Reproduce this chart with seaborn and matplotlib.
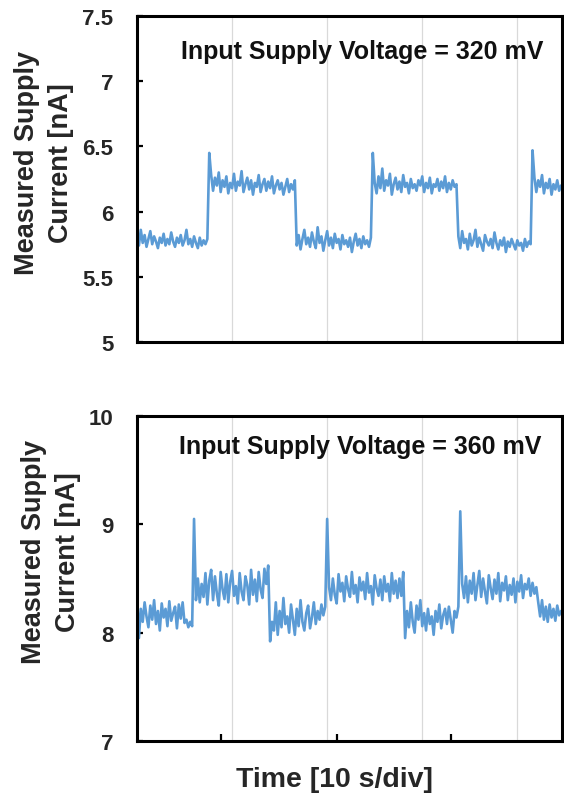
import numpy as np
import pandas as pd
import matplotlib
matplotlib.use("Agg")
import matplotlib.pyplot as plt
import seaborn as sns

# ---- data ----
sample_period_s = 0.2  # time between samples, seconds

current_320mV = [
    # low
    5.80, 5.74, 5.86, 5.76, 5.82, 5.73, 5.79, 5.85, 5.75, 5.81,
    5.77, 5.72, 5.80, 5.76, 5.83, 5.74, 5.79, 5.75, 5.84, 5.77,
    5.73, 5.80, 5.76, 5.82, 5.74, 5.78, 5.86, 5.75, 5.79, 5.73,
    5.81, 5.76, 5.72, 5.80, 5.74, 5.78, 5.75, 5.79,
    # spike + high
    6.45,
    6.28, 6.16, 6.26, 6.20, 6.30, 6.15, 6.24, 6.19, 6.27, 6.14,
    6.22, 6.18, 6.29, 6.16, 6.23, 6.20, 6.31, 6.15, 6.21, 6.26,
    6.17, 6.24, 6.13, 6.22, 6.19, 6.28, 6.15, 6.21, 6.25, 6.16,
    6.23, 6.18, 6.27, 6.14, 6.20, 6.24, 6.17, 6.22, 6.13, 6.19,
    6.25, 6.15, 6.21, 6.17, 6.24,
    # low
    5.74, 5.82, 5.71, 5.79, 5.86, 5.75, 5.80, 5.73, 5.84, 5.77,
    5.72, 5.88, 5.76, 5.81, 5.70, 5.78, 5.85, 5.74, 5.80, 5.72,
    5.83, 5.76, 5.79, 5.71, 5.82, 5.75, 5.78, 5.73, 5.80, 5.69,
    5.77, 5.83, 5.74, 5.79, 5.72, 5.81, 5.75, 5.78, 5.73, 5.80,
    # spike + high
    6.45,
    6.22, 6.14, 6.27, 6.18, 6.33, 6.16, 6.24, 6.20, 6.29, 6.13,
    6.21, 6.26, 6.17, 6.23, 6.15, 6.28, 6.19, 6.22, 6.14, 6.25,
    6.18, 6.21, 6.16, 6.24, 6.20, 6.27, 6.15, 6.22, 6.18, 6.26,
    6.14, 6.21, 6.19, 6.25, 6.16, 6.23, 6.18, 6.27, 6.15, 6.22,
    6.17, 6.24, 6.19, 6.21,
    # low
    5.81, 5.72, 5.85, 5.76, 5.79, 5.71, 5.83, 5.74, 5.78, 5.86,
    5.73, 5.80, 5.75, 5.70, 5.82, 5.77, 5.74, 5.79, 5.72, 5.84,
    5.76, 5.71, 5.78, 5.74, 5.80, 5.69, 5.77, 5.73, 5.79, 5.75,
    5.71, 5.78, 5.74, 5.76, 5.70, 5.79, 5.73, 5.77, 5.75,
    # spike + high
    6.47,
    6.26, 6.15, 6.24, 6.19, 6.28, 6.14, 6.22, 6.18, 6.25, 6.13,
    6.21, 6.17, 6.24, 6.16, 6.20,
]

current_360mV = [
    # low
    8.35, 7.95, 8.22, 8.10, 8.28, 8.15, 8.05, 8.25, 8.12, 8.30,
    8.08, 8.20, 8.02, 8.27, 8.14, 8.22, 8.06, 8.29, 8.11, 8.18,
    8.24, 8.04, 8.26, 8.13, 8.28, 8.09, 8.12, 8.05, 8.10, 8.06,
    # spike + high
    9.05,
    8.30, 8.50, 8.28, 8.45, 8.33, 8.55, 8.26, 8.48, 8.58, 8.30,
    8.52, 8.36, 8.25, 8.56, 8.40, 8.31, 8.54, 8.28, 8.47, 8.57,
    8.34, 8.43, 8.27, 8.55, 8.38, 8.30, 8.52, 8.44, 8.26, 8.58,
    8.35, 8.49, 8.29, 8.56, 8.40, 8.32, 8.59, 8.45, 8.62,
    # low
    7.92, 8.10, 8.02, 8.28, 7.98, 8.20, 8.05, 8.32, 8.08, 8.15,
    8.00, 8.26, 8.12, 7.98, 8.22, 8.06, 8.30, 8.10, 8.02, 8.18,
    8.25, 8.04, 8.14, 8.28, 8.08, 8.20, 8.12, 8.26, 8.16, 8.24,
    # spike + high
    9.05,
    8.42, 8.30, 8.50, 8.35, 8.27, 8.54, 8.38, 8.46, 8.29, 8.52,
    8.40, 8.33, 8.56, 8.36, 8.44, 8.28, 8.51, 8.39, 8.47, 8.31,
    8.55, 8.37, 8.43, 8.26, 8.53, 8.41, 8.34, 8.49, 8.30, 8.52,
    8.38, 8.45, 8.29, 8.55, 8.36, 8.48, 8.32, 8.50, 8.34, 8.56,
    # low
    7.95, 8.20, 8.05, 8.28, 8.10, 8.00, 8.25, 8.12, 8.30, 8.06,
    8.18, 8.02, 8.22, 8.08, 8.15, 7.98, 8.20, 8.10, 8.26, 8.04,
    8.16, 8.22, 8.08, 8.24, 8.12, 8.00, 8.20, 8.14, 8.24,
    # spike + high
    9.12,
    8.45, 8.32, 8.52, 8.28, 8.48, 8.36, 8.55, 8.30, 8.44, 8.57,
    8.33, 8.50, 8.38, 8.27, 8.53, 8.41, 8.31, 8.49, 8.36, 8.55,
    8.29, 8.46, 8.39, 8.52, 8.30, 8.44, 8.35, 8.50, 8.28, 8.47,
    8.38, 8.53, 8.32, 8.45, 8.40, 8.50, 8.34, 8.46, 8.36, 8.42,
    # low
    8.28, 8.15, 8.30, 8.12, 8.24, 8.10, 8.26, 8.14, 8.22, 8.11,
    8.25, 8.16, 8.20,
]

panel_titles = ["Input Supply Voltage = 320 mV", "Input Supply Voltage = 360 mV"]
y_ticks_top = [5, 5.5, 6, 6.5, 7, 7.5]
y_tick_labels_top = ["5", "5.5", "6", "6.5", "7", "7.5"]
y_ticks_bottom = [7, 8, 9, 10]
y_tick_labels_bottom = ["7", "8", "9", "10"]
grid_times_s = [10, 20, 30, 40]          # 10 s / div
bottom_tick_times_s = [8.8, 21.0, 33.0]
x_max_s = 44.7
y_label = "Measured Supply\nCurrent [nA]"
x_label = "Time [10 s/div]"

# ---- style ----
sns.set_style("white")
plt.rcParams["font.family"] = ["Liberation Sans", "DejaVu Sans"]
plt.rcParams["font.weight"] = "bold"

line_color = "#5B9BD5"

fig = plt.figure(figsize=(5.64, 8.04), dpi=100)
W, H = 564, 804

def axes_rect(left, top, right, bottom):
    return [left / W, 1 - bottom / H, (right - left) / W, (bottom - top) / H]

ax_top = fig.add_axes(axes_rect(137, 17, 562, 343))
ax_bot = fig.add_axes(axes_rect(137, 417, 562, 742))

df_top = pd.DataFrame({"t": np.arange(len(current_320mV)) * sample_period_s,
                       "I": current_320mV})
df_bot = pd.DataFrame({"t": np.arange(len(current_360mV)) * sample_period_s,
                       "I": current_360mV})

sns.lineplot(data=df_top, x="t", y="I", ax=ax_top, color=line_color, linewidth=1.9)
sns.lineplot(data=df_bot, x="t", y="I", ax=ax_bot, color=line_color, linewidth=1.9)

configs = [
    (ax_top, y_ticks_top, y_tick_labels_top, (5, 7.5), panel_titles[0],
     (0.531, 0.893), (-0.148, 0.552)),
    (ax_bot, y_ticks_bottom, y_tick_labels_bottom, (7, 10), panel_titles[1],
     (0.525, 0.908), (-0.132, 0.585)),
]

for ax, yt, ytl, ylim, title, tpos, lpos in configs:
    ax.set_xlim(0, x_max_s)
    ax.set_ylim(*ylim)
    ax.set_yticks(yt)
    ax.set_yticklabels(ytl, fontsize=16, fontweight="bold")
    ax.set_xticks(grid_times_s)
    ax.set_xticklabels([])
    ax.tick_params(axis="x", which="major", length=0)
    ax.tick_params(axis="y", direction="in", length=4, width=1.6, pad=17,
                   color="black", left=True)
    ax.grid(axis="x", color="#d9d9d9", linewidth=0.9)
    ax.grid(axis="y", visible=False)
    for sp in ax.spines.values():
        sp.set_visible(True)
        sp.set_color("black")
        sp.set_linewidth(2.2)
    ax.text(tpos[0], tpos[1], title, transform=ax.transAxes, ha="center",
            va="center", fontsize=18, fontweight="bold", color="#111111")
    ax.set_ylabel(y_label, fontsize=19.5, fontweight="bold", linespacing=1.38)
    ax.yaxis.set_label_coords(lpos[0], lpos[1])
    ax.set_xlabel("")

ax_bot.set_xticks(bottom_tick_times_s, minor=True)
ax_bot.tick_params(axis="x", which="minor", direction="in", length=5, width=1.6,
                   color="black", bottom=True)
ax_bot.set_xlabel(x_label, fontsize=20.5, fontweight="bold")
ax_bot.xaxis.set_label_coords(0.464, -0.077)

fig.savefig("out.png", dpi=100, facecolor="white")
